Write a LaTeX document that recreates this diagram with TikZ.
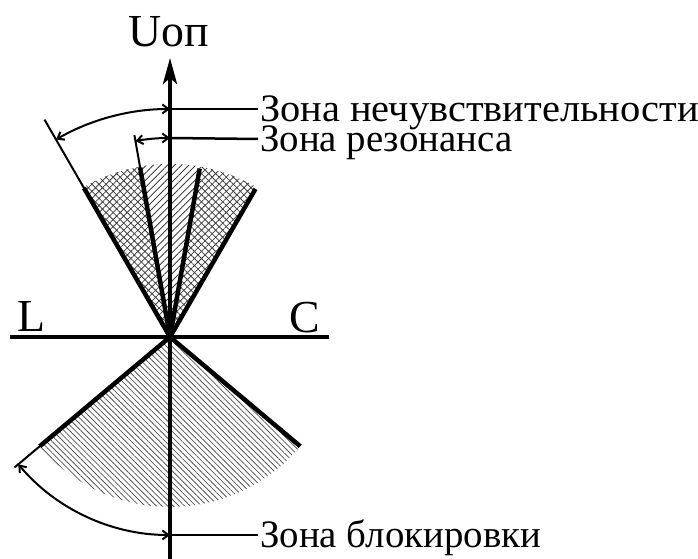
\documentclass[tikz,border=0pt]{standalone}
\usepackage{fontspec}
\usepackage{graphicx}
\setmainfont{Liberation Serif}
\usetikzlibrary{arrows.meta,patterns.meta}
\begin{document}
\begin{tikzpicture}[x=1bp,y=1bp,
  axis/.style={line width=4bp},
  thickline/.style={line width=4.5bp},
  thinline/.style={line width=2bp},
  leader/.style={line width=2.5bp},
  dimarc/.style={line width=2bp,{Straight Barb[length=6bp,width=9bp]}-{Straight Barb[length=6bp,width=9bp]}},
  lbl/.style={font=\fontsize{39}{39}\selectfont,anchor=base west,inner sep=0pt},
  biglbl/.style={font=\fontsize{46}{46}\selectfont,anchor=base,inner sep=0pt}]
\useasboundingbox (0,0) rectangle (698,559);
\coordinate (O) at (170,222);
\begin{scope}[shift={(O)}]
  % hatched sectors
  \fill[pattern={Hatch[angle=45,distance=5bp,line width=0.8bp]},pattern color=black!75]
    (0,0) -- (60:173) arc[start angle=60,end angle=120,radius=173] -- cycle;
  \fill[white] (0,0) -- (80:173) arc[start angle=80,end angle=100,radius=173] -- cycle;
  \fill[pattern={Lines[angle=45,distance=5bp,line width=0.9bp]},pattern color=black!75]
    (0,0) -- (80:173) arc[start angle=80,end angle=100,radius=173] -- cycle;
  \fill[pattern={Lines[angle=-45,distance=4bp,line width=0.8bp]},pattern color=black!65]
    (0,0) -- (220:170) arc[start angle=220,end angle=320,radius=170] -- cycle;
  % named points
  \coordinate (UL) at (120:172);
  \coordinate (ULt) at (120:251);
  \coordinate (UR) at (60:171);
  \coordinate (IL) at (100:172);
  \coordinate (ILt) at (100:205);
  \coordinate (IR) at (80:171);
  \coordinate (BL) at (220:170);
  \coordinate (BLt) at (220:203);
  \coordinate (BR) at (320:170);
  \coordinate (A1s) at (120:228);
  \coordinate (A1e) at (90:228);
  \coordinate (A2s) at (100:199);
  \coordinate (A2e) at (90:199);
  \coordinate (A3s) at (220:198);
  \coordinate (A3e) at (270:198);
\end{scope}
\coordinate (Xl) at (10,222);
\coordinate (Xr) at (329,222);
\coordinate (Yb) at (170,0);
\coordinate (Yt) at (170,501);
\coordinate (T1) at (258,450);
\coordinate (T2) at (258,420);
\coordinate (T3) at (258,24);
% sector lines
\draw[thinline] (O) -- (ULt);
\draw[thickline] (O) -- (UL);
\draw[thickline] (O) -- (UR);
\draw[thinline] (O) -- (ILt);
\draw[thickline] (O) -- (IL);
\draw[thickline] (O) -- (IR);
\draw[thinline] (O) -- (BLt);
\draw[thickline] (O) -- (BL);
\draw[thickline] (O) -- (BR);
% axes
\draw[axis] (Xl) -- (Xr);
\draw[axis,-{Stealth[length=26bp,width=14bp,inset=6bp]}] (Yb) -- (Yt);
% dimension arcs
\draw[dimarc] (A1s) arc[start angle=120,end angle=90,radius=228];
\draw[dimarc] (A2s) arc[start angle=100,end angle=90,radius=199];
\draw[dimarc] (A3s) arc[start angle=220,end angle=270,radius=198];
% leaders
\draw[leader] (A1e) -- (T1);
\draw[leader] (A2e) -- (T2);
\draw[leader] (A3e) -- (T3);
% labels
\node[lbl] (L1) at ([xshift=2bp,yshift=-13bp]T1) {\scalebox{1.04}[1]{Зона нечувствительности}};
\node[lbl] (L2) at ([xshift=2bp,yshift=-13bp]T2) {Зона резонанса};
\node[lbl] (L3) at ([xshift=2bp,yshift=-13bp]T3) {Зона блокировки};
\node[biglbl] (U) at (169,512) {Uоп};
\node[biglbl] (Ll) at (31,227) {L};
\node[biglbl] (Cl) at (305,226) {C};
\end{tikzpicture}
\end{document}
